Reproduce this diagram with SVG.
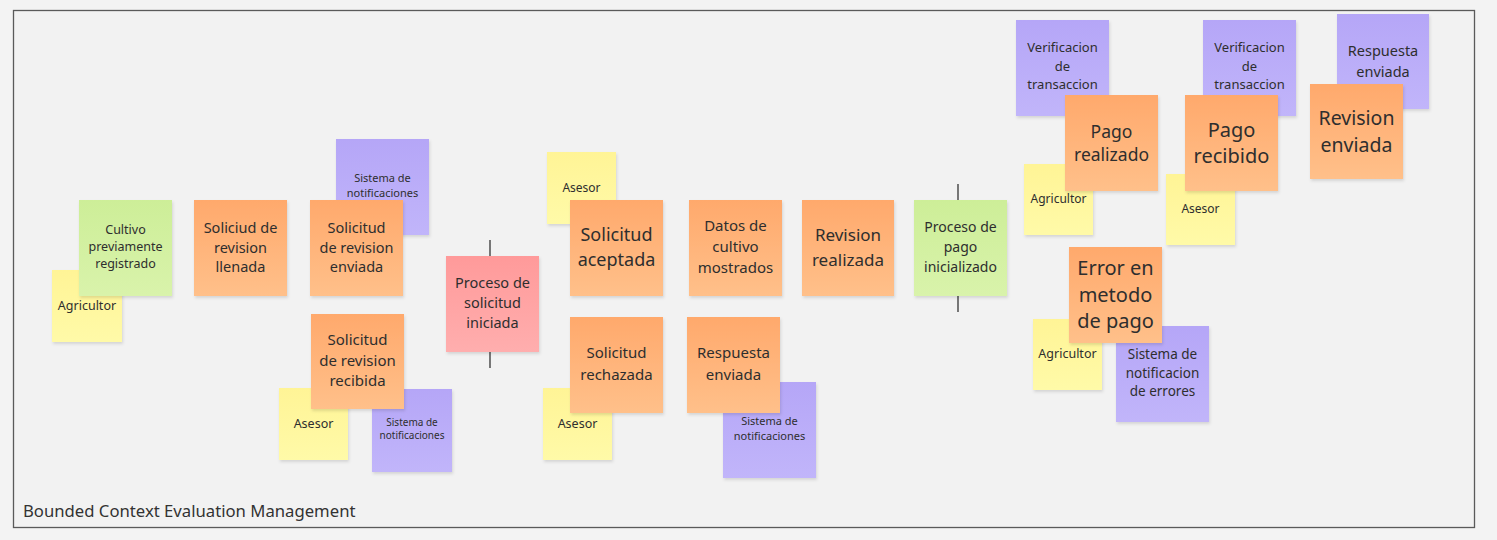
<svg xmlns="http://www.w3.org/2000/svg" width="1497" height="540" viewBox="0 0 1497 540">
<defs>
<linearGradient id="gO" x1="0" y1="0" x2="0" y2="1"><stop offset="0" stop-color="#ffa96c"/><stop offset="1" stop-color="#ffc08a"/></linearGradient>
<linearGradient id="gY" x1="0" y1="0" x2="0" y2="1"><stop offset="0" stop-color="#fff496"/><stop offset="1" stop-color="#fffaa8"/></linearGradient>
<linearGradient id="gG" x1="0" y1="0" x2="0" y2="1"><stop offset="0" stop-color="#cdee98"/><stop offset="1" stop-color="#d9f3ab"/></linearGradient>
<linearGradient id="gP" x1="0" y1="0" x2="0" y2="1"><stop offset="0" stop-color="#b5a6f7"/><stop offset="1" stop-color="#c1b5fa"/></linearGradient>
<linearGradient id="gR" x1="0" y1="0" x2="0" y2="1"><stop offset="0" stop-color="#ff9a9a"/><stop offset="1" stop-color="#ffaeae"/></linearGradient>
<filter id="sh" x="-10%" y="-10%" width="130%" height="130%"><feDropShadow dx="1" dy="2" stdDeviation="1.5" flood-color="#000" flood-opacity="0.12"/></filter>
</defs>
<style>
.o{fill:url(#gO);filter:url(#sh)}
.y{fill:url(#gY);filter:url(#sh)}
.g{fill:url(#gG);filter:url(#sh)}
.p{fill:url(#gP);filter:url(#sh)}
.r{fill:url(#gR);filter:url(#sh)}
text{font-family:"Noto Sans","Open Sans","DejaVu Sans",sans-serif;fill:#2e2e2e;text-anchor:middle;dominant-baseline:central;transform:translateY(-1px)}
.conn line{stroke:#333;stroke-width:1.3}
</style>
<rect x="0" y="0" width="1497" height="540" fill="#f3f3f3"/>
<rect x="13.5" y="10.5" width="1461" height="517" fill="#f2f2f2" stroke="#5a5a5a" stroke-width="1.3"/>
<text x="23" y="511" style="text-anchor:start;font-size:16.7px;fill:#333">Bounded Context Evaluation Management</text>

<g class="conn" id="connectors">
<line x1="490" y1="240" x2="490" y2="256"/>
<line x1="490" y1="352" x2="490" y2="368"/>
<line x1="958" y1="184" x2="958" y2="200"/>
<line x1="958" y1="296" x2="958" y2="312"/>
</g>

<g id="n-agricultor1"><rect class="y" x="52" y="270" width="70" height="72"/><text x="87" y="306" font-size="12.5">Agricultor</text></g>
<g id="n-cultivo"><rect class="g" x="79" y="200" width="93" height="96"/><text font-size="12.5"><tspan x="125.5" y="230">Cultivo</tspan><tspan x="125.5" y="247">previamente</tspan><tspan x="125.5" y="264">registrado</tspan></text></g>
<g id="n-llenada"><rect class="o" x="194" y="200" width="93" height="96"/><text font-size="14.5"><tspan x="240.5" y="228">Soliciud de</tspan><tspan x="240.5" y="247.5">revision</tspan><tspan x="240.5" y="267">llenada</tspan></text></g>
<g id="n-sistema1"><rect class="p" x="336" y="139" width="93" height="96"/><text font-size="11"><tspan x="382.5" y="178">Sistema de</tspan><tspan x="382.5" y="193">notificaciones</tspan></text></g>
<g id="n-enviada"><rect class="o" x="310" y="200" width="93" height="96"/><text font-size="14.5"><tspan x="356.5" y="228">Solicitud</tspan><tspan x="356.5" y="247.5">de revision</tspan><tspan x="356.5" y="267">enviada</tspan></text></g>
<g id="n-asesor1"><rect class="y" x="279" y="388" width="69" height="72"/><text x="313.5" y="424" font-size="12.5">Asesor</text></g>
<g id="n-sistema2"><rect class="p" x="372" y="389" width="80" height="83"/><text font-size="10"><tspan x="412" y="423">Sistema de</tspan><tspan x="412" y="436">notificaciones</tspan></text></g>
<g id="n-recibida"><rect class="o" x="311" y="314" width="93" height="95"/><text font-size="15"><tspan x="357.5" y="340">Solicitud</tspan><tspan x="357.5" y="360.5">de revision</tspan><tspan x="357.5" y="381">recibida</tspan></text></g>
<g id="n-proceso-solicitud"><rect class="r" x="446" y="256" width="93" height="96"/><text font-size="14.5"><tspan x="492.5" y="283">Proceso de</tspan><tspan x="492.5" y="303">solicitud</tspan><tspan x="492.5" y="323">iniciada</tspan></text></g>
<g id="n-asesor2"><rect class="y" x="547" y="152" width="69" height="72"/><text x="581.5" y="188" font-size="12">Asesor</text></g>
<g id="n-aceptada"><rect class="o" x="570" y="200" width="93" height="96"/><text font-size="18"><tspan x="616.5" y="235">Solicitud</tspan><tspan x="616.5" y="260">aceptada</tspan></text></g>
<g id="n-datos"><rect class="o" x="689" y="200" width="93" height="96"/><text font-size="15"><tspan x="735.5" y="226">Datos de</tspan><tspan x="735.5" y="247">cultivo</tspan><tspan x="735.5" y="268">mostrados</tspan></text></g>
<g id="n-revision-realizada"><rect class="o" x="802" y="200" width="92" height="96"/><text font-size="17"><tspan x="848" y="235">Revision</tspan><tspan x="848" y="260">realizada</tspan></text></g>
<g id="n-asesor3"><rect class="y" x="543" y="388" width="69" height="72"/><text x="577.5" y="424" font-size="12.5">Asesor</text></g>
<g id="n-rechazada"><rect class="o" x="570" y="317" width="93" height="96"/><text font-size="15"><tspan x="616.5" y="353">Solicitud</tspan><tspan x="616.5" y="375">rechazada</tspan></text></g>
<g id="n-sistema3"><rect class="p" x="723" y="382" width="93" height="96"/><text font-size="11"><tspan x="769.5" y="421">Sistema de</tspan><tspan x="769.5" y="436">notificaciones</tspan></text></g>
<g id="n-respuesta1"><rect class="o" x="687" y="317" width="93" height="96"/><text font-size="15"><tspan x="733.5" y="353">Respuesta</tspan><tspan x="733.5" y="375">enviada</tspan></text></g>
<g id="n-proceso-pago"><rect class="g" x="914" y="200" width="93" height="96"/><text font-size="14"><tspan x="960.5" y="227">Proceso de</tspan><tspan x="960.5" y="247">pago</tspan><tspan x="960.5" y="267">inicializado</tspan></text></g>
<g id="n-verif1"><rect class="p" x="1016" y="20" width="93" height="96"/><text font-size="13"><tspan x="1062.5" y="48">Verificacion</tspan><tspan x="1062.5" y="67">de</tspan><tspan x="1062.5" y="85">transaccion</tspan></text></g>
<g id="n-agricultor2"><rect class="y" x="1024" y="164" width="69" height="71"/><text x="1058.5" y="199" font-size="12">Agricultor</text></g>
<g id="n-pago-realizado"><rect class="o" x="1065" y="95" width="93" height="96"/><text font-size="17.5"><tspan x="1111.5" y="132">Pago</tspan><tspan x="1111.5" y="155">realizado</tspan></text></g>
<g id="n-agricultor3"><rect class="y" x="1033" y="319" width="69" height="71"/><text x="1067.5" y="354" font-size="12.5">Agricultor</text></g>
<g id="n-sistema-errores"><rect class="p" x="1116" y="326" width="93" height="96"/><text font-size="13.5"><tspan x="1162.5" y="355">Sistema de</tspan><tspan x="1162.5" y="374">notificacion</tspan><tspan x="1162.5" y="392">de errores</tspan></text></g>
<g id="n-error"><rect class="o" x="1069" y="247" width="93" height="96"/><text font-size="20"><tspan x="1115.5" y="268">Error en</tspan><tspan x="1115.5" y="295">metodo</tspan><tspan x="1115.5" y="321">de pago</tspan></text></g>
<g id="n-verif2"><rect class="p" x="1203" y="20" width="93" height="96"/><text font-size="13"><tspan x="1249.5" y="48">Verificacion</tspan><tspan x="1249.5" y="67">de</tspan><tspan x="1249.5" y="85">transaccion</tspan></text></g>
<g id="n-asesor4"><rect class="y" x="1166" y="174" width="69" height="71"/><text x="1200.5" y="209" font-size="12">Asesor</text></g>
<g id="n-pago-recibido"><rect class="o" x="1185" y="95" width="93" height="96"/><text font-size="20"><tspan x="1231.5" y="130">Pago</tspan><tspan x="1231.5" y="156">recibido</tspan></text></g>
<g id="n-respuesta2"><rect class="p" x="1337" y="14" width="92" height="95"/><text font-size="14.5"><tspan x="1383" y="51">Respuesta</tspan><tspan x="1383" y="72">enviada</tspan></text></g>
<g id="n-revision-enviada"><rect class="o" x="1310" y="84" width="93" height="95"/><text font-size="19.5"><tspan x="1356.5" y="118">Revision</tspan><tspan x="1356.5" y="145">enviada</tspan></text></g>
</svg>
